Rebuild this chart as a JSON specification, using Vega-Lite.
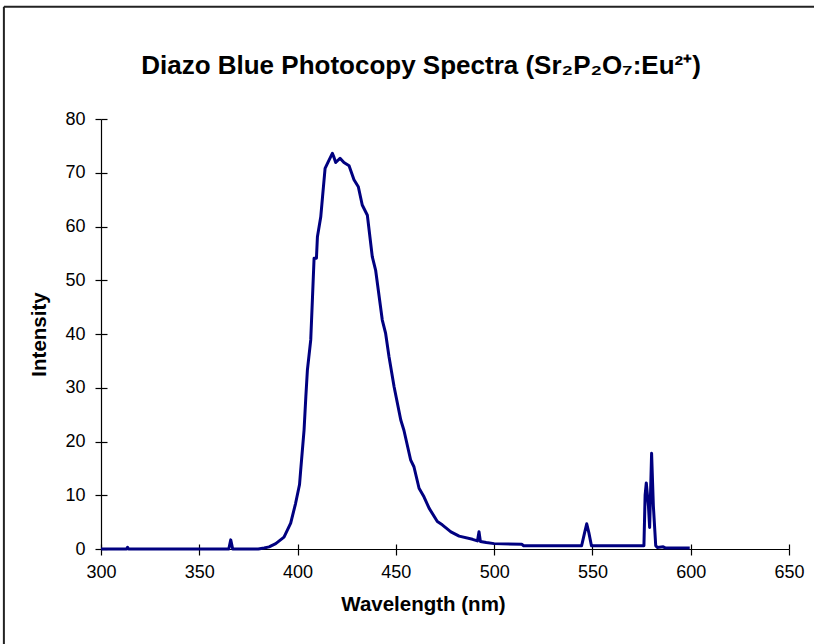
{
  "$schema": "https://vega.github.io/schema/vega-lite/v6.json",
  "autosize": "none",
  "width": 688,
  "height": 430,
  "padding": {"left": 101, "top": 119, "right": 25, "bottom": 95},
  "background": "white",
  "config": {"view": {"stroke": null}, "font": "Liberation Sans"},
  "title": {
    "text": "Diazo Blue Photocopy Spectra (Sr₂P₂O₇:Eu²⁺)",
    "font": "Liberation Sans",
    "fontSize": 26,
    "fontWeight": "bold",
    "color": "black",
    "offset": -73,
    "dx": -24
  },
  "datasets": {
    "spectrum": [
      {"wl": 300, "I": 0}, {"wl": 313, "I": 0}, {"wl": 313.5, "I": 0.3}, {"wl": 314, "I": 0},
      {"wl": 365, "I": 0}, {"wl": 366, "I": 1.7}, {"wl": 367, "I": 0},
      {"wl": 380, "I": 0}, {"wl": 383, "I": 0.2}, {"wl": 385.5, "I": 0.4}, {"wl": 388.9, "I": 1.0},
      {"wl": 393.1, "I": 2.2}, {"wl": 396.5, "I": 4.8}, {"wl": 399, "I": 8.5}, {"wl": 401, "I": 12},
      {"wl": 401.6, "I": 14.7}, {"wl": 403.3, "I": 22.1}, {"wl": 404.2, "I": 28.3}, {"wl": 405, "I": 33.3},
      {"wl": 406.7, "I": 38.9}, {"wl": 407.6, "I": 46.9}, {"wl": 408.4, "I": 54.1}, {"wl": 409.6, "I": 54.1},
      {"wl": 410.1, "I": 58.1}, {"wl": 411.8, "I": 61.8}, {"wl": 412.7, "I": 65.5}, {"wl": 414, "I": 70.8},
      {"wl": 415.7, "I": 72.1}, {"wl": 417.7, "I": 73.6}, {"wl": 418.5, "I": 72.9}, {"wl": 419.4, "I": 71.9},
      {"wl": 421.6, "I": 72.7}, {"wl": 423.6, "I": 71.9}, {"wl": 426.2, "I": 71.3}, {"wl": 428.7, "I": 68.7},
      {"wl": 430.9, "I": 67.4}, {"wl": 432.9, "I": 64.0}, {"wl": 435.5, "I": 62.1}, {"wl": 438, "I": 54.4},
      {"wl": 439.7, "I": 51.9}, {"wl": 443.1, "I": 42.6}, {"wl": 444.8, "I": 40.1}, {"wl": 446.5, "I": 35.8},
      {"wl": 449.1, "I": 30.2}, {"wl": 452.5, "I": 24.0}, {"wl": 454.1, "I": 22.1}, {"wl": 457.5, "I": 16.6},
      {"wl": 459.2, "I": 15.3}, {"wl": 461.8, "I": 11.3}, {"wl": 464.3, "I": 9.7}, {"wl": 466.9, "I": 7.6},
      {"wl": 471.1, "I": 5.1}, {"wl": 473.6, "I": 4.5}, {"wl": 478, "I": 3.2}, {"wl": 482.2, "I": 2.4},
      {"wl": 489, "I": 1.8}, {"wl": 491.5, "I": 1.5}, {"wl": 492.3, "I": 3.2}, {"wl": 493, "I": 1.4},
      {"wl": 496, "I": 1.2}, {"wl": 500, "I": 1.0}, {"wl": 514, "I": 0.9}, {"wl": 515, "I": 0.6},
      {"wl": 544.5, "I": 0.6}, {"wl": 546, "I": 3}, {"wl": 547.1, "I": 4.7}, {"wl": 548.2, "I": 3},
      {"wl": 549.5, "I": 0.6}, {"wl": 576.2, "I": 0.6}, {"wl": 576.8, "I": 10}, {"wl": 577.4, "I": 12.3},
      {"wl": 578.5, "I": 8}, {"wl": 579.1, "I": 4.0}, {"wl": 580.1, "I": 17.8}, {"wl": 581, "I": 8},
      {"wl": 582.2, "I": 0.6}, {"wl": 583, "I": 0.3}, {"wl": 586, "I": 0.4}, {"wl": 587, "I": 0.2},
      {"wl": 599.5, "I": 0.2}
    ]
  },
  "layer": [
    {
      "data": {"name": "spectrum"},
      "mark": {"type": "line", "color": "#000080", "strokeWidth": 3, "strokeJoin": "round"},
      "encoding": {
        "x": {
          "field": "wl", "type": "quantitative",
          "scale": {"domain": [300, 650], "nice": false, "zero": false},
          "axis": {
            "orient": "bottom", "values": [300, 350, 400, 450, 500, 550, 600, 650],
            "title": "Wavelength (nm)", "titleFont": "Liberation Sans", "titleFontSize": 20.5,
            "titleFontWeight": "bold", "titleColor": "black", "titleX": 322, "titlePadding": 13,
            "labelFont": "Liberation Sans", "labelFontSize": 18, "labelColor": "black", "labelPadding": 8,
            "domainColor": "black", "domainWidth": 1.2, "tickColor": "black", "tickSize": 6, "tickWidth": 1.2,
            "grid": false, "labelFlush": false, "labelOverlap": false
          }
        },
        "y": {
          "field": "I", "type": "quantitative",
          "scale": {"domain": [0, 80], "nice": false},
          "axis": {
            "orient": "left", "values": [0, 10, 20, 30, 40, 50, 60, 70, 80],
            "title": "Intensity", "titleFont": "Liberation Sans", "titleFontSize": 20.5,
            "titleFontWeight": "bold", "titleColor": "black", "titlePadding": 15,
            "labelFont": "Liberation Sans", "labelFontSize": 18, "labelColor": "black", "labelPadding": 10,
            "domainColor": "black", "domainWidth": 1.2, "tickColor": "black", "tickSize": 6, "tickWidth": 1.2,
            "grid": false, "labelFlush": false, "labelOverlap": false
          }
        }
      }
    },
    {
      "data": {"name": "spectrum"},
      "mark": {"type": "point", "opacity": 0},
      "encoding": {
        "x": {
          "field": "wl", "type": "quantitative",
          "scale": {"domain": [300, 650], "nice": false, "zero": false},
          "axis": {
            "orient": "bottom", "values": [300, 350, 400, 450, 500, 550, 600, 650],
            "title": null, "labels": false, "domain": false,
            "tickColor": "black", "tickSize": -5, "tickWidth": 1.2, "grid": false
          }
        },
        "y": {
          "field": "I", "type": "quantitative",
          "scale": {"domain": [0, 80], "nice": false},
          "axis": {
            "orient": "left", "values": [0, 10, 20, 30, 40, 50, 60, 70, 80],
            "title": null, "labels": false, "domain": false,
            "tickColor": "black", "tickSize": -6, "tickWidth": 1.2, "grid": false
          }
        }
      }
    },
    {
      "data": {"values": [{}]},
      "mark": {"type": "rule", "color": "#222222", "strokeWidth": 2, "clip": false},
      "encoding": {
        "x": {"datum": 250.6, "type": "quantitative", "scale": {"domain": [300, 650], "nice": false, "zero": false}, "axis": null},
        "y": {"datum": -20, "type": "quantitative", "scale": {"domain": [0, 80], "nice": false}, "axis": null},
        "y2": {"datum": 100.9}
      }
    },
    {
      "data": {"values": [{}]},
      "mark": {"type": "rule", "color": "#222222", "strokeWidth": 2, "clip": false},
      "encoding": {
        "y": {"datum": 100.9, "type": "quantitative", "scale": {"domain": [0, 80], "nice": false}, "axis": null},
        "x": {"datum": 250.6, "type": "quantitative", "scale": {"domain": [300, 650], "nice": false, "zero": false}, "axis": null},
        "x2": {"datum": 680}
      }
    }
  ],
  "resolve": {"axis": {"x": "independent", "y": "independent"}}
}
